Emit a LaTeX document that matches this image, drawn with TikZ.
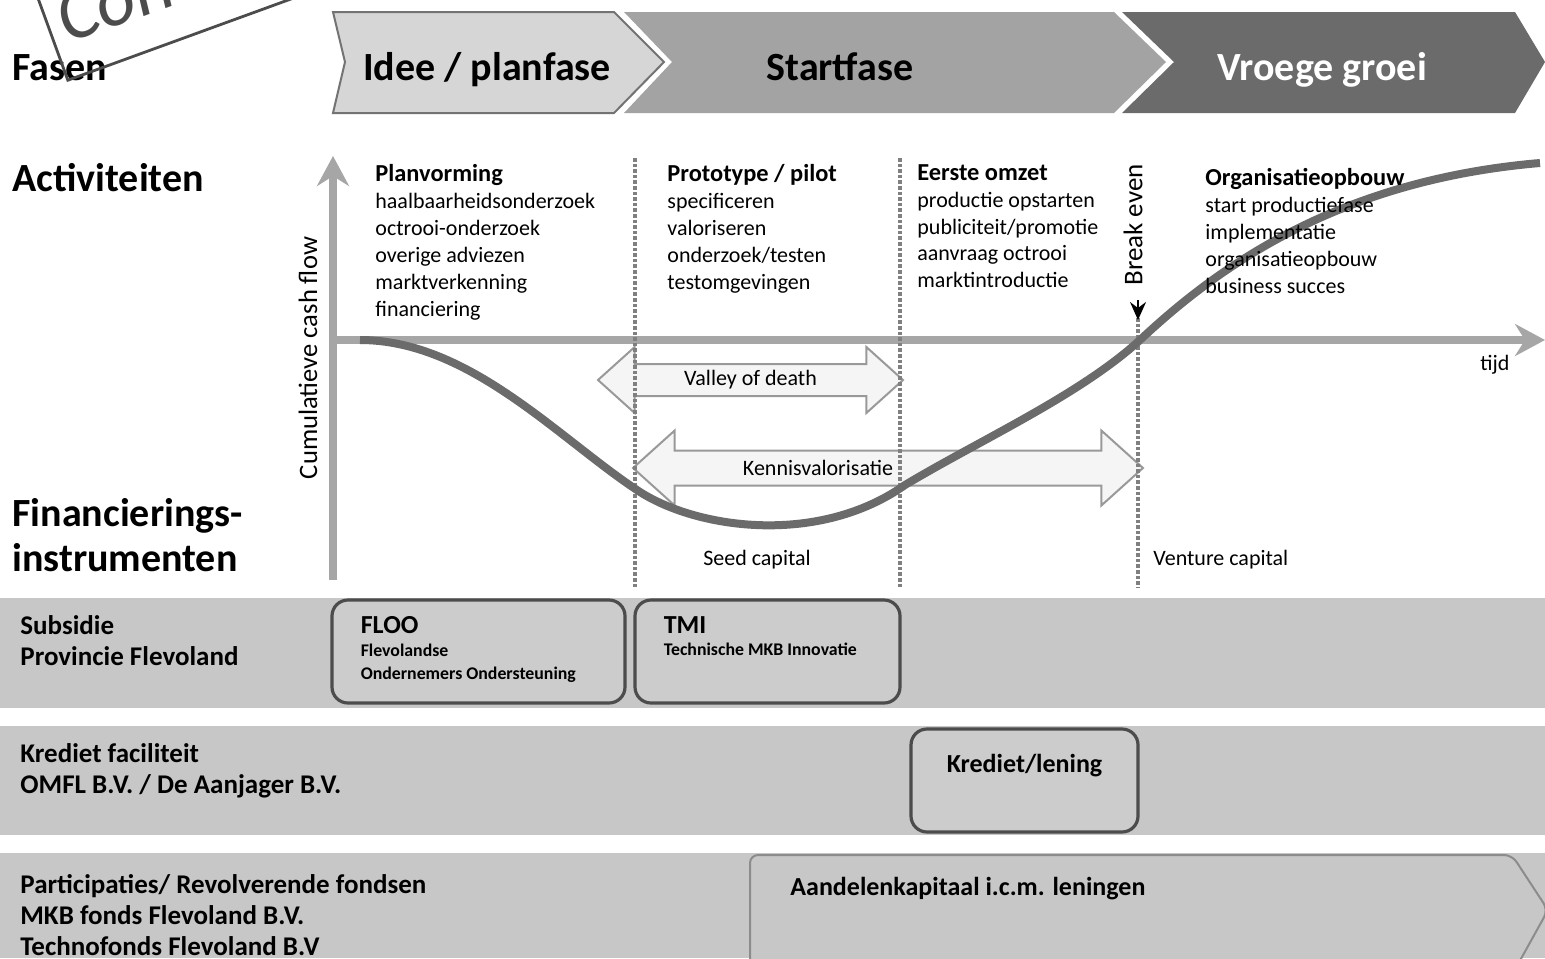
\documentclass[tikz,border=0pt]{standalone}
\usepackage{fontspec}
\setmainfont{Carlito}
\usetikzlibrary{positioning, arrows.meta, shapes.arrows}
\newcommand\acthead{\bfseries\fontsize{12.2}{13.45}\selectfont}

\begin{document}
\begin{tikzpicture}[x=0.5pt, y=-0.5pt,
	phase/.style={font=\bfseries\fontsize{20}{24}\selectfont, inner sep=0pt, anchor=base},
	head/.style={font=\bfseries\fontsize{20}{22.5}\selectfont, anchor=west, align=left, inner sep=0pt},
	activity/.style={font=\fontsize{11}{13.45}\selectfont, anchor=north west, align=left, inner sep=0pt},
	plain/.style={font=\fontsize{11}{13}\selectfont, inner sep=0pt},
	axis/.style={line width=4pt, black!35, -{Stealth[length=15pt, width=16pt, inset=5pt]}},
	phaseline/.style={densely dotted, line width=1.8pt, black!50},
	cashflow/.style={line width=4pt, black!58},
	blockarrow/.style={double arrow, double arrow head extend=8.5pt, double arrow tip angle=84, draw=black!40, fill=black!4, line width=1pt, inner xsep=0pt, inner ysep=2.25pt, text height=8pt, text depth=2.5pt, font=\fontsize{11}{13}\selectfont},
	band/.style={fill=black!22},
	bandlabel/.style={font=\bfseries\fontsize{13.5}{15.5}\selectfont, anchor=west, align=left, inner sep=0pt},
	finbox/.style={draw=black!70, line width=1.6pt, rounded corners=8pt, fill=black!20, inner sep=0pt},
	boxtitle/.style={font=\bfseries\fontsize{13}{14}\selectfont, inner sep=0pt},
	boxsub/.style={font=\bfseries\fontsize{8.9}{11.5}\selectfont, align=left, inner sep=0pt},
	stamp/.style={draw=black!70, line width=1.4pt, text=black!70, font=\itshape\fontsize{38}{38}\selectfont, inner xsep=6pt, inner ysep=11pt}]
	\useasboundingbox (0,0) rectangle (1545,958);

	% fasen
	\fill[black!16] (333,12) -- (614,12) -- (664,62) -- (614,113) -- (333,113) -- (345,62) -- cycle;
	\draw[black!55, line width=1pt] (333,12) -- (614,12) -- (664,62) -- (614,113) -- (333,113) -- (345,62) -- cycle;
	\fill[black!36] (624,12) -- (1114,12) -- (1166,62) -- (1114,113) -- (624,113) -- (672,62) -- cycle;
	\fill[black!58] (1122,12) -- (1515,12) -- (1545,62) -- (1515,113) -- (1122,113) -- (1174,62) -- cycle;

	\node[phase] (idee) at (487,80) {Idee / planfase};
	\node[phase] (start) at (840,80) {Startfase};
	\node[phase, text=white] (groei) at (1322,80) {Vroege groei};

	\node[head] (fasen) at (12,68) {Fasen};
	\node[head] (activ) at (12,178) {Activiteiten};
	\node[head] (fin) at (12,535) {Financierings-\\instrumenten};

	% banden
	\fill[band] (0,598) rectangle (1545,708);
	\fill[band] (0,726) rectangle (1545,835);
	\fill[band] (0,853) rectangle (1545,958);

	% assen
	\coordinate (origin) at (333,340);
	\coordinate (ytop) at (333,156);
	\coordinate (ybot) at (333,580);
	\coordinate (xend) at (1545,340);
	\draw[axis] (ybot) -- (ytop);
	\draw[axis] (origin) -- (xend);
	\node[font=\fontsize{13.3}{15}\selectfont, rotate=90, inner sep=0pt] (cash) at (308,358) {Cumulatieve cash flow};
	\node[plain] (tijd) at (1495,365) {tijd};

	\node[blockarrow, minimum height=152.5pt] (valley) at (750.5,380) {Valley of death};
	\node[blockarrow, minimum height=255pt, inner ysep=3pt, double arrow head extend=10pt] (kennis) at (888,468) {};
	\node[plain] (kennislbl) at (818,468) {Kennisvalorisatie};

	\foreach \x/\t in {635/158, 900/158, 1138/318}
		\draw[phaseline] (\x,\t) -- (\x,588);

	\node[font=\fontsize{13.5}{15}\selectfont, rotate=90, inner sep=0pt] (breakeven) at (1133,225) {Break even};
	\coordinate (be1) at (1138,300);
	\coordinate (be2) at (1138,320);
	\draw[line width=1pt, -{Stealth[length=9pt, width=8pt, inset=3pt]}] (be1) -- (be2);

	\coordinate (cfstart) at (360,340);
	\draw[cashflow] (cfstart) .. controls (470,340) and (560,440) .. (640,492) .. controls (700,530) and (820,545) .. (905,485) .. controls (980,440) and (1080,395) .. (1140,340) .. controls (1220,265) and (1340,180) .. (1540,163);

	% activiteiten
	\node[activity] (plan) at (375,164) {{\acthead Planvorming}\\haalbaarheidsonderzoek\\octrooi-onderzoek\\overige adviezen\\marktverkenning\\financiering};
	\node[activity] (proto) at (667,164) {{\acthead Prototype / pilot}\\specificeren\\valoriseren\\onderzoek/testen\\testomgevingen};
	\node[activity] (omzet) at (917,164) {{\acthead Eerste omzet}\\productie opstarten\\publiciteit/promotie\\aanvraag octrooi\\marktintroductie};
	\node[activity] (orga) at (1205,168) {{\acthead Organisatieopbouw}\\start productiefase\\implementatie\\organisatieopbouw\\business succes};

	\node[plain] (seed) at (757,560) {Seed capital};
	\node[plain, anchor=west] (venture) at (1153,560) {Venture capital};

	% instrumenten
	\node[bandlabel] (subsidie) at (20,641) {Subsidie\\Provincie Flevoland};
	\node[bandlabel] (krediet) at (20,771) {Krediet faciliteit\\OMFL B.V. / De Aanjager B.V.};
	\node[bandlabel] (particip) at (20,915) {Participaties/ Revolverende fondsen\\MKB fonds Flevoland B.V.\\Technofonds Flevoland B.V};

	\node[finbox, minimum width=146.5pt, minimum height=51.5pt] (floo) at (478.5,651.5) {};
	\node[boxtitle, below right=9pt and 15pt of floo.north west] (floot) {FLOO};
	\node[boxsub, below=4.5pt of floot.south west, anchor=north west] (floos) {Flevolandse\\Ondernemers Ondersteuning};

	\node[finbox, minimum width=132.5pt, minimum height=51.5pt] (tmi) at (767.5,651.5) {};
	\node[boxtitle, below right=9pt and 15pt of tmi.north west] (tmit) {TMI};
	\node[boxsub, below=4.5pt of tmit.south west, anchor=north west] (tmis) {Technische MKB Innovatie};

	\node[finbox, minimum width=113.5pt, minimum height=51.5pt] (lening) at (1024.5,780.5) {};
	\node[boxtitle, below=13pt of lening.north] (leningt) {Krediet/lening};

	\draw[black!45, line width=1pt, fill=black!22, rounded corners=4pt] (750,975) -- (750,855) -- (1512,855) -- (1548,910) -- (1512,975);
	\node[boxtitle, anchor=west] (aandelen) at (790,889) {Aandelenkapitaal i.c.m. leningen};

	% stempel
	\node[stamp, rotate=20, anchor=south west] (concept) at (67,82) {Concept};
\end{tikzpicture}
\end{document}
